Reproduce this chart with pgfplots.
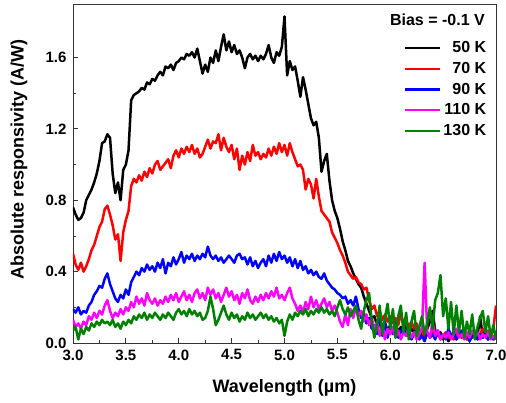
\documentclass[border=0pt]{standalone}
\usepackage{pgfplots}
\pgfplotsset{compat=1.18}
\usepackage{pgfplotstable}
\usepackage{fontspec}
\setmainfont{Liberation Sans}
\definecolor{cgreen}{RGB}{0,128,0}
\definecolor{cmag}{RGB}{255,0,255}
\definecolor{cred}{RGB}{255,0,0}
\definecolor{cblue}{RGB}{0,0,255}
\pgfplotstableread{
x b r bl m g
3.000 0.76 0.50 0.19 0.13 0.07
3.025 0.72 0.44 0.17 0.09 0.09
3.050 0.69 0.41 0.20 0.11 0.02
3.075 0.70 0.45 0.16 0.08 0.08
3.100 0.73 0.40 0.18 0.12 0.05
3.125 0.80 0.43 0.17 0.10 0.09
3.150 0.83 0.47 0.21 0.15 0.07
3.175 0.86 0.52 0.23 0.13 0.11
3.200 0.90 0.55 0.27 0.17 0.09
3.225 0.95 0.60 0.29 0.14 0.12
3.250 1.02 0.65 0.32 0.18 0.10
3.275 1.12 0.68 0.31 0.16 0.13
3.300 1.13 0.75 0.36 0.21 0.11
3.325 1.17 0.77 0.39 0.24 0.12
3.350 1.15 0.72 0.33 0.18 0.10
3.375 0.95 0.66 0.29 0.14 0.13
3.400 0.84 0.58 0.25 0.17 0.09
3.425 0.90 0.61 0.23 0.15 0.11
3.450 0.80 0.46 0.27 0.19 0.08
3.475 0.97 0.62 0.25 0.16 0.12
3.500 1.00 0.69 0.30 0.20 0.10
3.525 1.08 0.74 0.27 0.18 0.13
3.550 1.36 0.88 0.34 0.23 0.11
3.575 1.39 0.92 0.37 0.20 0.15
3.600 1.40 0.90 0.40 0.26 0.13
3.625 1.41 0.94 0.38 0.22 0.16
3.650 1.43 0.91 0.42 0.25 0.14
3.675 1.42 0.96 0.40 0.21 0.17
3.700 1.46 0.93 0.44 0.28 0.13
3.725 1.45 0.98 0.41 0.24 0.16
3.750 1.48 0.95 0.43 0.22 0.14
3.775 1.47 1.00 0.40 0.25 0.17
3.800 1.50 1.02 0.45 0.21 0.15
3.825 1.52 0.97 0.42 0.24 0.13
3.850 1.50 0.99 0.47 0.22 0.16
3.875 1.55 1.01 0.39 0.26 0.14
3.900 1.54 1.03 0.45 0.23 0.17
3.925 1.56 0.98 0.43 0.27 0.15
3.950 1.53 1.05 0.48 0.24 0.13
3.975 1.57 1.08 0.44 0.28 0.17
4.000 1.58 1.04 0.47 0.23 0.19
4.025 1.60 1.09 0.51 0.26 0.16
4.050 1.59 1.06 0.45 0.29 0.18
4.075 1.62 1.10 0.49 0.24 0.15
4.100 1.61 1.07 0.47 0.27 0.19
4.125 1.63 1.11 0.50 0.23 0.16
4.150 1.60 1.06 0.46 0.28 0.18
4.175 1.65 1.09 0.49 0.30 0.15
4.200 1.58 1.04 0.47 0.25 0.17
4.225 1.51 1.06 0.50 0.28 0.13
4.250 1.56 1.10 0.48 0.24 0.14
4.275 1.52 1.14 0.54 0.31 0.18
4.300 1.60 1.09 0.49 0.27 0.26
4.325 1.57 1.13 0.47 0.30 0.19
4.350 1.64 1.12 0.49 0.25 0.10
4.375 1.58 1.17 0.46 0.28 0.13
4.400 1.66 1.08 0.48 0.23 0.17
4.425 1.73 1.15 0.45 0.27 0.21
4.450 1.64 1.10 0.47 0.31 0.16
4.475 1.69 1.07 0.49 0.26 0.13
4.500 1.63 1.11 0.47 0.29 0.17
4.525 1.67 1.03 0.45 0.24 0.14
4.550 1.62 1.09 0.49 0.27 0.16
4.575 1.64 0.97 0.50 0.22 0.12
4.600 1.60 1.05 0.47 0.28 0.15
4.625 1.54 1.00 0.48 0.25 0.13
4.650 1.60 1.07 0.44 0.30 0.17
4.675 1.62 1.02 0.48 0.24 0.14
4.700 1.59 1.11 0.43 0.22 0.16
4.725 1.61 1.05 0.46 0.26 0.13
4.750 1.58 1.07 0.42 0.23 0.15
4.775 1.61 1.03 0.45 0.27 0.17
4.800 1.59 1.06 0.47 0.24 0.14
4.825 1.62 1.04 0.43 0.28 0.16
4.850 1.67 1.09 0.49 0.25 0.13
4.875 1.60 1.05 0.45 0.29 0.15
4.900 1.57 1.10 0.50 0.26 0.12
4.925 1.63 1.06 0.46 0.31 0.14
4.950 1.61 1.12 0.51 0.25 0.11
4.975 1.66 1.07 0.47 0.27 0.13
5.000 1.83 1.11 0.49 0.24 0.04
5.025 1.50 1.05 0.45 0.28 0.12
5.050 1.58 1.12 0.48 0.31 0.16
5.075 1.53 1.07 0.43 0.25 0.13
5.100 1.55 1.03 0.47 0.22 0.17
5.125 1.47 0.99 0.42 0.18 0.15
5.150 1.38 1.00 0.46 0.21 0.18
5.175 1.49 0.97 0.41 0.17 0.16
5.200 1.42 0.86 0.43 0.23 0.19
5.225 1.34 0.92 0.39 0.19 0.15
5.250 1.26 0.89 0.41 0.26 0.18
5.275 1.22 0.81 0.38 0.20 0.16
5.300 1.24 0.92 0.40 0.24 0.19
5.325 1.15 0.82 0.37 0.19 0.17
5.350 0.96 0.74 0.36 0.22 0.20
5.375 1.02 0.72 0.39 0.25 0.17
5.400 1.06 0.70 0.35 0.20 0.19
5.425 0.91 0.68 0.33 0.23 0.16
5.450 0.80 0.62 0.31 0.18 0.18
5.475 0.74 0.59 0.30 0.21 0.15
5.500 0.70 0.56 0.28 0.17 0.20
5.525 0.64 0.52 0.27 0.12 0.24
5.550 0.57 0.49 0.25 0.09 0.19
5.575 0.52 0.45 0.26 0.16 0.16
5.600 0.46 0.40 0.22 0.10 0.20
5.625 0.43 0.38 0.24 0.19 0.15
5.650 0.39 0.36 0.21 0.14 0.18
5.675 0.36 0.37 0.26 0.20 0.21
5.700 0.33 0.34 0.19 0.15 0.13
5.725 0.31 0.33 0.14 0.18 0.08
5.750 0.26 0.30 0.17 0.12 0.18
5.775 0.22 0.31 0.11 0.16 0.24
5.800 0.18 0.24 0.14 0.10 0.28
5.825 0.14 0.19 0.08 0.14 0.12
5.850 0.15 0.21 0.10 0.07 0.03
5.875 0.10 0.15 0.05 0.12 0.10
5.900 0.12 0.18 0.15 0.04 0.21
5.925 0.08 0.13 0.04 0.10 0.05
5.950 0.11 0.16 0.12 0.02 0.14
5.975 0.07 0.12 0.03 0.08 0.22
6.000 0.10 0.15 0.09 0.05 0.08
6.025 0.08 0.11 0.05 0.09 0.19
6.050 0.11 0.14 0.08 0.03 0.03
6.075 0.06 0.10 0.03 0.07 0.15
6.100 0.09 0.16 0.06 0.02 0.21
6.125 0.07 0.11 0.09 0.06 0.06
6.150 0.10 0.13 0.04 0.04 0.17
6.175 0.05 0.09 0.07 0.08 0.02
6.200 0.08 0.12 0.02 0.03 0.12
6.225 0.06 0.08 0.05 0.06 0.18
6.250 0.09 0.11 0.08 0.02 0.04
6.275 0.04 0.06 0.02 0.05 0.09
6.300 0.06 0.08 0.04 0.08 0.15
6.325 0.03 0.02 0.01 0.45 0.05
6.350 0.08 0.06 0.06 0.06 0.11
6.375 0.12 0.04 0.03 0.03 0.20
6.400 0.18 0.07 0.05 0.12 0.08
6.425 0.07 0.03 0.02 0.04 0.24
6.450 0.04 0.05 0.07 0.07 0.28
6.475 0.06 0.02 0.03 0.02 0.38
6.500 0.02 0.04 0.05 0.05 0.15
6.525 0.05 0.06 0.02 0.03 0.25
6.550 0.01 0.03 0.08 0.06 0.08
6.575 0.04 0.05 0.04 0.02 0.23
6.600 0.06 0.02 0.06 0.05 0.05
6.625 0.02 0.04 0.02 0.08 0.21
6.650 0.05 0.07 0.04 0.03 0.06
6.675 0.03 0.03 0.07 0.05 0.18
6.700 0.07 0.05 0.03 0.02 0.03
6.725 0.02 0.02 0.05 0.06 0.12
6.750 0.05 0.04 0.01 0.03 0.05
6.775 0.03 0.03 0.04 0.07 0.16
6.800 0.06 0.06 0.06 0.04 0.02
6.825 0.04 0.02 0.02 0.06 0.09
6.850 0.15 0.05 0.05 0.02 0.14
6.875 0.03 0.08 0.03 0.05 0.18
6.900 0.05 0.04 0.07 0.03 0.06
6.925 0.02 0.07 0.02 0.06 0.15
6.950 0.04 0.03 0.04 0.02 0.03
6.975 0.02 0.08 0.02 0.04 0.10
7.000 0.03 0.21 0.03 0.02 0.02
}\datatable
\begin{document}
\begin{tikzpicture}
\path[use as bounding box] (-73pt,-59pt) rectangle (433pt,343pt);
\begin{axis}[
  at={(0pt,0pt)}, anchor=south west,
  width=423pt, height=339pt, scale only axis,
  xmin=3, xmax=7, ymin=0, ymax=1.9,
  xtick={3,3.5,4,4.5,5,5.5,6,6.5,7},
  ytick={0,0.4,0.8,1.2,1.6},
  minor x tick num=1, minor y tick num=1,
  tick align=inside, tick pos=left,
  major tick length=5pt, minor tick length=3pt,
  axis line style={black!80, line width=0.8pt},
  every tick/.style={black!80, line width=0.8pt},
  /pgf/number format/assume math mode=true,
  xticklabel style={yshift=-3pt, /pgf/number format/.cd, fixed, fixed zerofill, precision=1},
  yticklabel style={xshift=-3pt, /pgf/number format/.cd, fixed, fixed zerofill, precision=1},
  ticklabel style={font=\bfseries\fontsize{15}{17}\selectfont},
  xlabel={Wavelength (µm)},
  ylabel={Absolute responsivity (A/W)},
  label style={font=\bfseries\fontsize{18}{20}\selectfont},
  xlabel style={at={(axis description cs:0.5,-0.133)}, anchor=center},
  ylabel style={at={(axis description cs:-0.128,0.54)}, anchor=center},
  legend style={at={(rel axis cs:0.982,0.895)}, anchor=north east, draw=none, fill=none,
    font=\bfseries\fontsize{16}{18}\selectfont, inner sep=0pt, row sep=4pt,
    /tikz/every even column/.append style={column sep=8pt}},
  legend cell align=right,
  legend image code/.code={\draw[#1, line width=2.5pt] (0pt,0pt) -- (35pt,0pt);},
]
\addplot[black, line width=2.5pt, line join=round] table[x=x, y=b] {\datatable};
\addlegendentry{50 K}
\addplot[cred, line width=2.5pt, line join=round] table[x=x, y=r] {\datatable};
\addlegendentry{70 K}
\addplot[cblue, line width=2.5pt, line join=round] table[x=x, y=bl] {\datatable};
\addlegendentry{90 K}
\addplot[cmag, line width=2.5pt, line join=round] table[x=x, y=m] {\datatable};
\addlegendentry{110 K}
\addplot[cgreen, line width=2.5pt, line join=round] table[x=x, y=g] {\datatable};
\addlegendentry{130 K}
\node[anchor=north east, inner sep=0pt, font=\bfseries\fontsize{16}{18}\selectfont] at (rel axis cs:0.974,0.97) {Bias = -0.1 V};
\end{axis}
\end{tikzpicture}
\end{document}
